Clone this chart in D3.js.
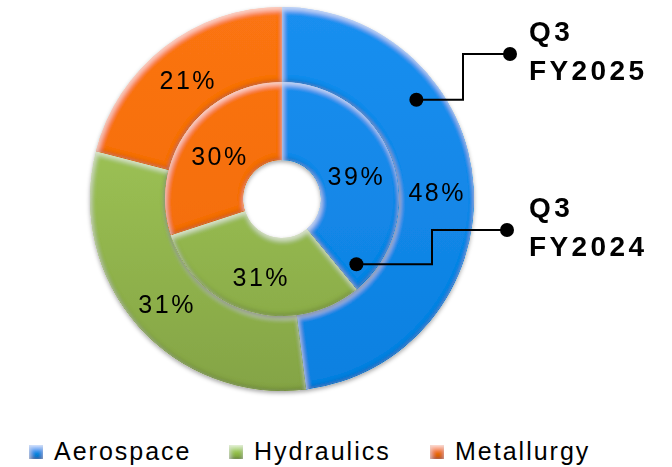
<!DOCTYPE html>
<html>
<head>
<meta charset="utf-8">
<script src="https://cdn.jsdelivr.net/npm/d3@7"></script>
<style>
  body { margin: 0; background: #fff; }
  svg { display: block; font-family: "Liberation Sans", Arial, sans-serif; }
</style>
</head>
<body>
<div id="chart"></div>
<script>
// data
var categories = ["Aerospace", "Hydraulics", "Metallurgy"];
var fy2025 = [48, 31, 21];   // outer ring
var fy2024 = [39, 31, 30];   // inner ring
var ringLabels = ["Q3\nFY2025", "Q3\nFY2024"];

var colors = ["#1289e9", "#93be4b", "#f86e0c"];
var light = ["#1a8ff0", "#a9d15c", "#fb7412"];
var dark = ["#0c80e0", "#84a445", "#f06a0a"];

var width = 672, height = 467;
var cx = 282, cy = 199;

var svg = d3.select("#chart").append("svg")
  .attr("width", width)
  .attr("height", height);

var defs = svg.append("defs");

// vertical gradients per colour, spread over the whole chart
categories.forEach(function(c, i) {
  var g = defs.append("linearGradient")
    .attr("id", "ring" + i)
    .attr("gradientUnits", "userSpaceOnUse")
    .attr("x1", 0).attr("y1", -192).attr("x2", 0).attr("y2", 192);
  g.append("stop").attr("offset", "0%").attr("stop-color", light[i]);
  g.append("stop").attr("offset", "100%").attr("stop-color", dark[i]);
  var l = defs.append("linearGradient")
    .attr("id", "grad" + i)
    .attr("x1", 0).attr("y1", 0).attr("x2", 0).attr("y2", 1);
  l.append("stop").attr("offset", "0%").attr("stop-color", d3.color(colors[i]).brighter(0.4));
  l.append("stop").attr("offset", "100%").attr("stop-color", d3.color(colors[i]).darker(0.3));
});

// bevel filter: light rim at top edges, dark rim at bottom edges
var f = defs.append("filter").attr("id", "bevel")
  .attr("x", "-5%").attr("y", "-5%").attr("width", "110%").attr("height", "110%");
f.append("feGaussianBlur").attr("in", "SourceAlpha").attr("stdDeviation", 2.5).attr("result", "blur");
f.append("feOffset").attr("in", "blur").attr("dx", 0.5).attr("dy", 2.5).attr("result", "down");
f.append("feComposite").attr("in", "down").attr("in2", "SourceAlpha").attr("operator", "arithmetic")
  .attr("k2", -1).attr("k3", 1).attr("result", "hiMask");
f.append("feFlood").attr("flood-color", "#fff").attr("flood-opacity", 0.6).attr("result", "hiCol");
f.append("feComposite").attr("in", "hiCol").attr("in2", "hiMask").attr("operator", "in").attr("result", "hi");
f.append("feOffset").attr("in", "blur").attr("dx", -0.5).attr("dy", -2.5).attr("result", "up");
f.append("feComposite").attr("in", "up").attr("in2", "SourceAlpha").attr("operator", "arithmetic")
  .attr("k2", -1).attr("k3", 1).attr("result", "shMask");
f.append("feFlood").attr("flood-color", "#000").attr("flood-opacity", 0.4).attr("result", "shCol");
f.append("feComposite").attr("in", "shCol").attr("in2", "shMask").attr("operator", "in").attr("result", "sh");
var merge = f.append("feMerge");
merge.append("feMergeNode").attr("in", "SourceGraphic");
merge.append("feMergeNode").attr("in", "sh");
merge.append("feMergeNode").attr("in", "hi");

// drop shadow for rings
var ds = defs.append("filter").attr("id", "drop")
  .attr("x", "-10%").attr("y", "-10%").attr("width", "120%").attr("height", "120%");
ds.append("feGaussianBlur").attr("in", "SourceAlpha").attr("stdDeviation", 2).attr("result", "b");
ds.append("feOffset").attr("in", "b").attr("dx", 0).attr("dy", 1.5).attr("result", "o");
ds.append("feFlood").attr("flood-color", "#000").attr("flood-opacity", 0.35).attr("result", "c");
ds.append("feComposite").attr("in", "c").attr("in2", "o").attr("operator", "in").attr("result", "s");
var m2 = ds.append("feMerge");
m2.append("feMergeNode").attr("in", "s");
m2.append("feMergeNode").attr("in", "SourceGraphic");

var pie = d3.pie().sort(null).value(function(d) { return d; });

var outerArc = d3.arc().innerRadius(117).outerRadius(192);
var innerArc = d3.arc().innerRadius(39).outerRadius(117);

var g = svg.append("g").attr("transform", "translate(" + cx + "," + cy + ")");

function drawRing(values, arc, cls) {
  var ring = g.append("g").attr("class", cls).attr("filter", "url(#drop)");
  var arcs = pie(values);
  ring.selectAll("path")
    .data(arcs)
    .enter().append("path")
    .attr("d", arc)
    .attr("fill", function(d, i) { return "url(#ring" + i + ")"; })
    .attr("filter", "url(#bevel)");
  return arcs;
}

function drawLabels(arcs, arc) {
  g.append("g").selectAll("text")
    .data(arcs)
    .enter().append("text")
    .attr("transform", function(d) {
      var c = arc.centroid(d);
      return "translate(" + (c[0] + 1) + "," + (c[1] + 3) + ")";
    })
    .attr("text-anchor", "middle")
    .attr("dy", "0.36em")
    .attr("font-size", 25)
    .attr("letter-spacing", 2.5)
    .attr("fill", "#000")
    .text(function(d) { return d.value + "%"; });
}

var outerArcs = drawRing(fy2025, outerArc, "outer");
var innerArcs = drawRing(fy2024, innerArc, "inner");
drawLabels(outerArcs, outerArc);
drawLabels(innerArcs, innerArc);

// callouts (anchored inside the Aerospace slice of each ring)
function callout(d, r, frac, elbowX, endX, endY, label) {
  var a = d.startAngle + (d.endAngle - d.startAngle) * frac;
  var p = d3.pointRadial(a, r);
  var x0 = cx + p[0], y0 = cy + p[1];
  var path = d3.path();
  path.moveTo(x0, y0);
  path.lineTo(elbowX, y0);
  path.lineTo(elbowX, endY);
  path.lineTo(endX, endY);
  svg.append("path").attr("d", path.toString())
    .attr("fill", "none").attr("stroke", "#000").attr("stroke-width", 2);
  svg.append("circle").attr("cx", x0).attr("cy", y0).attr("r", 7).attr("fill", "#000");
  svg.append("circle").attr("cx", endX).attr("cy", endY).attr("r", 7).attr("fill", "#000");
  var lines = label.split("\n");
  var t = svg.append("text")
    .attr("x", 529)
    .attr("font-size", 28)
    .attr("font-weight", "bold")
    .attr("letter-spacing", 3.4)
    .attr("fill", "#000");
  lines.forEach(function(l, i) {
    t.append("tspan").attr("x", 529).attr("y", endY - 13 + i * 39).text(l);
  });
}

callout(outerArcs[0], 167, 0.31, 463, 510, 54, ringLabels[0]);
callout(innerArcs[0], 99, 0.935, 432, 507, 230, ringLabels[1]);

// legend
var legendX = [29, 229, 430];
var legend = svg.append("g").attr("class", "legend");
categories.forEach(function(c, i) {
  legend.append("rect")
    .attr("x", legendX[i]).attr("y", 445)
    .attr("width", 14).attr("height", 14)
    .attr("fill", "url(#grad" + i + ")")
    .attr("filter", "url(#bevel)");
  legend.append("text")
    .attr("x", legendX[i] + 25).attr("y", 460)
    .attr("font-size", 25)
    .attr("letter-spacing", 2)
    .attr("fill", "#000")
    .text(c);
});
</script>
</body>
</html>
